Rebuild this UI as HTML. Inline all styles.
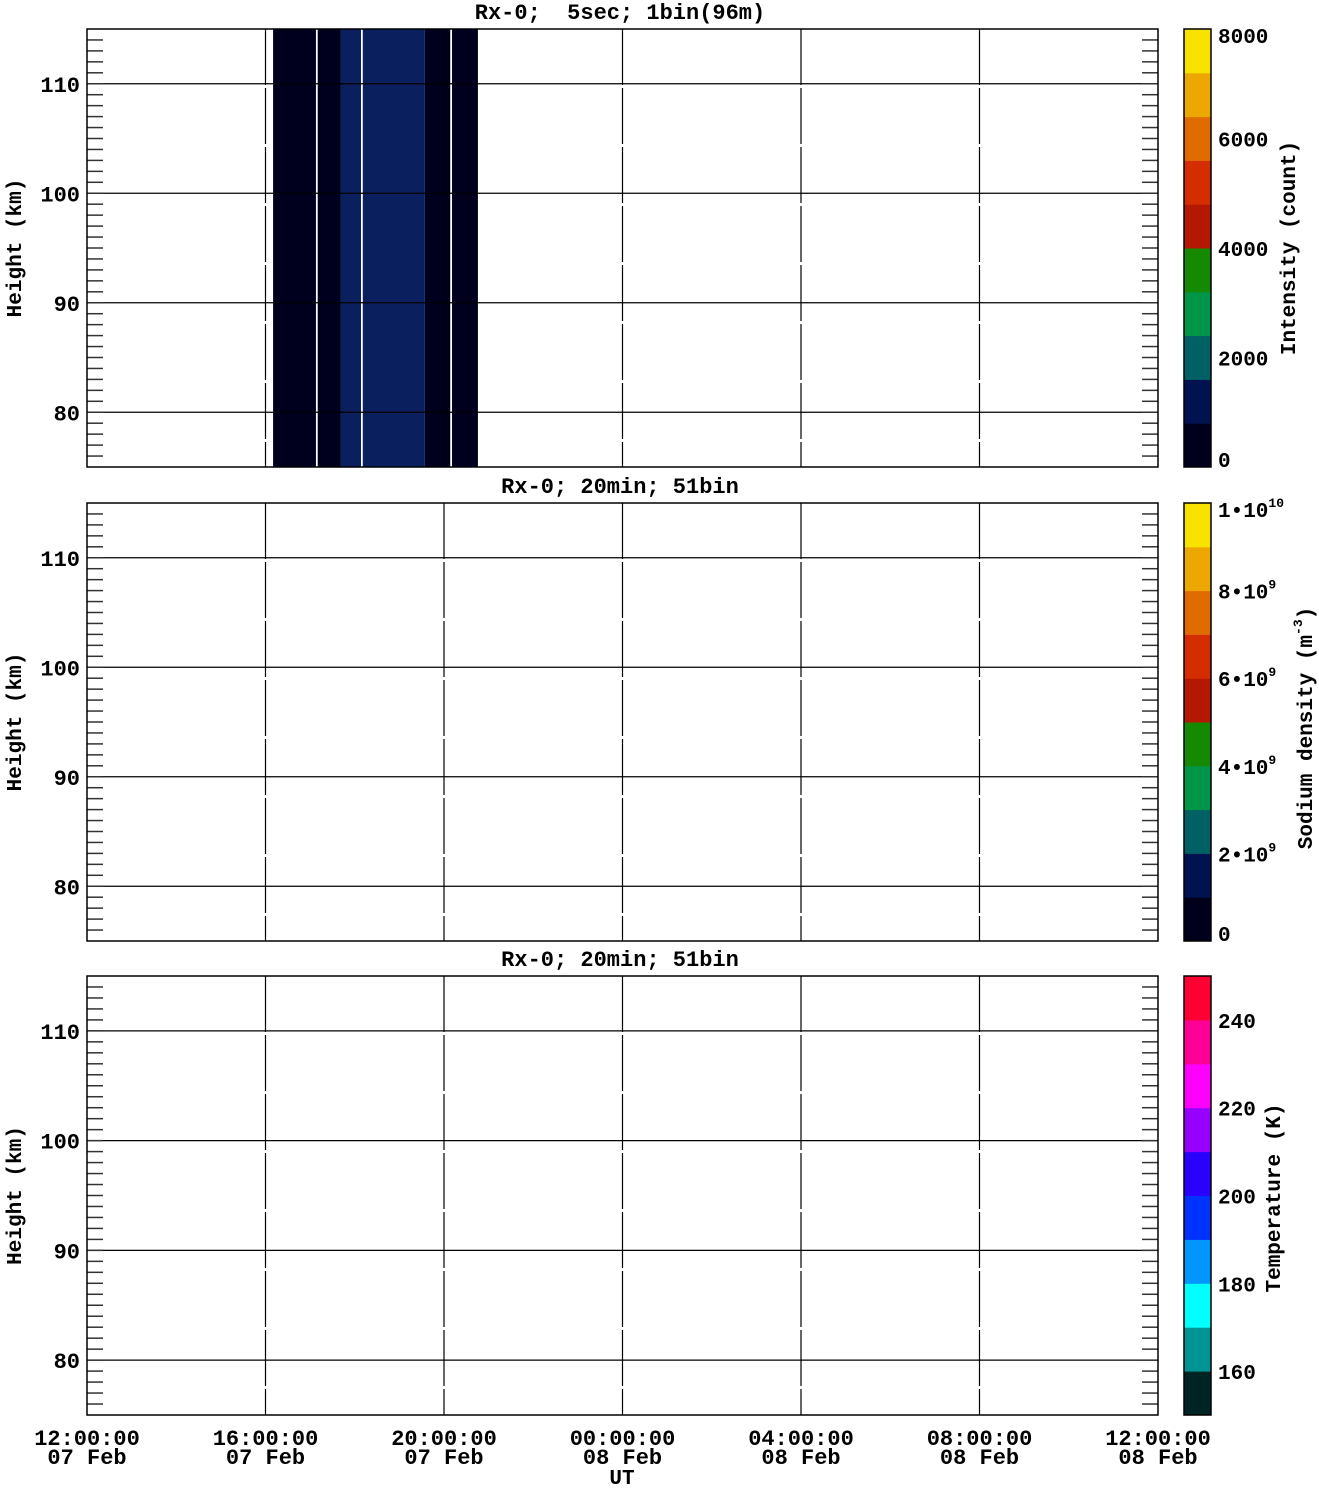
<!DOCTYPE html>
<html><head><meta charset="utf-8"><style>
html,body{margin:0;padding:0;background:#fff}
svg text{font-family:"Liberation Mono",monospace;font-weight:bold;fill:#000;white-space:pre}
</style></head><body>
<svg id="chart" width="1319" height="1489" viewBox="0 0 1319 1489" xmlns="http://www.w3.org/2000/svg"></svg>
<script>
// ---- data ----
const segStart = [4.17, 5.17, 5.69, 6.18, 7.57, 8.18];   // hours since 12:00 07 Feb
const segEnd   = [5.13, 5.69, 6.14, 7.57, 8.14, 8.76];
const segValue = [300, 300, 1200, 1200, 300, 300];      // intensity counts
const xTickLabels = ["12:00:00","16:00:00","20:00:00","00:00:00","04:00:00","08:00:00","12:00:00"];
const xTickDates  = ["07 Feb","07 Feb","07 Feb","08 Feb","08 Feb","08 Feb","08 Feb"];
const yTicks = [80, 90, 100, 110];
const intensityColors = ["#00001c","#001250","#006064","#00964a","#158a00","#b41800","#d42e00","#e06c00","#eca800","#f8e200"];
const dataColors = ["#00001e","#0a1f5e"];
const sodiumColors = intensityColors;
const tempColors = ["#002424","#009494","#00ffff","#0096ff","#0032ff","#2a00ff","#9600ff","#ff00ff","#ff0096","#ff0032"];
const intensityLabels = ["0","2000","4000","6000","8000"];
const intensityTickVals = [0,2000,4000,6000,8000];
const tempLabels = ["160","180","200","220","240"];
const tempTickVals = [160,180,200,220,240];

// ---- layout ----
const NS = "http://www.w3.org/2000/svg";
const svg = document.getElementById("chart");
const X0 = 87, X1 = 1158, CBX = 1184, CBW = 27;
const panels = [{top:29,bot:467,title:"Rx-0;  5sec; 1bin(96m)"},{top:503,bot:941,title:"Rx-0; 20min; 51bin"},{top:976,bot:1415,title:"Rx-0; 20min; 51bin"}];
function xs(h){ return X0 + (X1 - X0) * h / 24; }
function mk(tag, attrs, parent){ const e = document.createElementNS(NS, tag); for (const k in attrs) e.setAttribute(k, attrs[k]); (parent||svg).appendChild(e); return e; }
function txt(s, attrs, parent){ const t = mk("text", attrs, parent); t.textContent = s; return t; }

panels.forEach((p, pi) => {
  const g = mk("g", {});
  
  
  const ys = v => p.bot - (p.bot - p.top) * (v - 75) / 40;
  if (pi === 0) {
    for (let i = 0; i < segValue.length; i++) {
      const lvl = Math.min(9, Math.floor(segValue[i] / 800));
      const r = mk("rect", {x: xs(segStart[i]), y: p.top, width: xs(segEnd[i]) - xs(segStart[i]), height: p.bot - p.top, fill: lvl < 2 ? dataColors[lvl] : intensityColors[lvl]}, g);
      
      
    }
  }
  for (let i = 1; i < 6; i++) {
    const l = mk("line", {x1: xs(i*4), x2: xs(i*4), y1: p.top, y2: p.bot, stroke: "#000", "stroke-width": 1.2, "stroke-dasharray": "56,3"}, g);
    
    
  }
  yTicks.forEach(v => {
    mk("line", {x1: X0, x2: X1, y1: ys(v), y2: ys(v), stroke: "#000", "stroke-width": 1.2}, g);
    const t = txt(String(v), {x: 80, y: ys(v) + 8, "font-size": 22, "text-anchor": "end"}, g);
    
    
  });
  for (let v = 76; v < 115; v++) {
    mk("line", {x1: X0, x2: X0 + 16, y1: ys(v), y2: ys(v), stroke: "#333", "stroke-width": 1.5}, g);
    mk("line", {x1: X1 - 16, x2: X1, y1: ys(v), y2: ys(v), stroke: "#333", "stroke-width": 1.5}, g);
  }
  const fr = mk("rect", {x: X0, y: p.top, width: X1 - X0, height: p.bot - p.top, fill: "none", stroke: "#000", "stroke-width": 1.5}, g);
  
  
  const tt = txt(p.title, {x: 620, y: p.top - 10, "font-size": 22, "text-anchor": "middle"}, g);
  
  
  const yl = txt("Height (km)", {x: 0, y: 0, "font-size": 21, "text-anchor": "middle", transform: `translate(21,${(p.top+p.bot)/2}) rotate(-90)`}, g);
  
  
  const cols = pi === 0 ? intensityColors : pi === 1 ? sodiumColors : tempColors;
  const h = (p.bot - p.top) / 10;
  cols.forEach((c, i) => {
    const r = mk("rect", {x: CBX, y: p.bot - (i+1)*h, width: CBW, height: h + 0.5, fill: c}, g);
    
    
  });
  mk("rect", {x: CBX, y: p.top, width: CBW, height: p.bot - p.top, fill: "none", stroke: "#000", "stroke-width": 1.5}, g);
  const cy = v => p.bot - (p.bot - p.top) * v;
  if (pi === 0) {
    intensityLabels.forEach((s, i) => {
      const t = txt(s, {x: 1218, y: cy(intensityTickVals[i]/8000) + (i===0?0:(i===4?14:8)), "font-size": 21}, g);
      
      
    });
    const ct = txt("Intensity (count)", {x: 0, y: 0, "font-size": 21, "text-anchor": "middle", transform: `translate(1295,248) rotate(-90)`}, g);
    
    
  } else if (pi === 1) {
    const labs = [["0",""],["2•10","9"],["4•10","9"],["6•10","9"],["8•10","9"],["1•10","10"]];
    labs.forEach((l, i) => {
      const yy = cy(i/5) + (i===0?0:(i===5?14:8));
      const t = txt("", {x: 1218, y: yy, "font-size": 21}, g);
      t.appendChild(document.createTextNode(l[0]));
      if (l[1]) { const s = document.createElementNS(NS, "tspan"); s.setAttribute("font-size", 13); s.setAttribute("dy", -10); s.textContent = l[1]; t.appendChild(s); }
      
      
    });
    const ct = txt("Sodium density (m", {x: 0, y: 0, "font-size": 21, "text-anchor": "middle", transform: `translate(1312,728) rotate(-90)`}, g);
    const s1 = document.createElementNS(NS, "tspan"); s1.setAttribute("font-size", 13); s1.setAttribute("dy", -10); s1.textContent = "-3"; ct.appendChild(s1);
    const s2 = document.createElementNS(NS, "tspan"); s2.setAttribute("dy", 10); s2.textContent = ")"; ct.appendChild(s2);
    
    
  } else {
    tempLabels.forEach((s, i) => {
      const t = txt(s, {x: 1218, y: cy((tempTickVals[i]-150)/100) + 8, "font-size": 21}, g);
      
      
    });
    const ct = txt("Temperature (K)", {x: 0, y: 0, "font-size": 21, "text-anchor": "middle", transform: `translate(1280,1198) rotate(-90)`}, g);
    
    
  }
});
xTickLabels.forEach((s, i) => {
  const t = txt(s, {x: xs(i*4), y: 1445, "font-size": 22, "text-anchor": "middle"});
  
  
  const d = txt(xTickDates[i], {x: xs(i*4), y: 1464, "font-size": 22, "text-anchor": "middle"});
  
  
});
const ut = txt("UT", {x: 622, y: 1484, "font-size": 21, "text-anchor": "middle"});


</script>
</body></html>
